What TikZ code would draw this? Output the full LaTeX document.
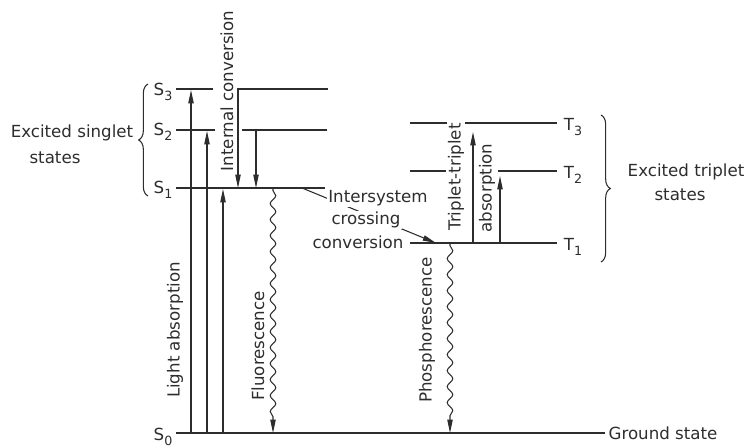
\documentclass[tikz,border=0pt]{standalone}
\usepackage{fontspec}
\setmainfont{DejaVu Sans}
\usetikzlibrary{arrows.meta,decorations.pathmorphing,decorations.pathreplacing}
\newcommand\lsub[1]{\raisebox{-0.5ex}{\fontsize{9.5}{10}\selectfont #1}}
\definecolor{ink}{RGB}{45,45,45}
\begin{document}
\begin{tikzpicture}[x=0.75pt,y=-0.75pt,
  every node/.style={text=ink},
  lvl/.style={draw=ink,line width=1.3pt},
  arr/.style={draw=ink,line width=0.8pt,-{Stealth[length=10pt,width=4pt,inset=0pt]}},
  wavy/.style={draw=ink,line width=0.8pt,-{Stealth[length=10pt,width=4pt,inset=0pt]},
    decorate,decoration={snake,amplitude=2.1pt,segment length=12pt,pre length=2pt,post length=10pt}},
  brc/.style={draw=ink,line width=0.8pt,decorate,decoration={brace,amplitude=7pt}},
  lab/.style={font=\fontsize{12.5}{14}\selectfont,inner sep=1pt},
  rlab/.style={lab,rotate=90}]
\useasboundingbox (0,0) rectangle (748,448);
% level coordinates
\coordinate (s3a) at (176,89); \coordinate (s3b) at (213,89);
\coordinate (s3c) at (237,89); \coordinate (s3d) at (328,89);
\coordinate (s2a) at (176,130); \coordinate (s2b) at (215,130);
\coordinate (s2c) at (242,130); \coordinate (s2d) at (327,130);
\coordinate (s1a) at (176,188); \coordinate (s1b) at (325,188);
\coordinate (s0a) at (176,433); \coordinate (s0b) at (605,433);
\coordinate (t3a) at (410,123); \coordinate (t3b) at (447,123);
\coordinate (t3c) at (465,123); \coordinate (t3d) at (557,123);
\coordinate (t2a) at (410,171); \coordinate (t2b) at (446,171);
\coordinate (t2c) at (498,171); \coordinate (t2d) at (557,171);
\coordinate (t1a) at (410,243); \coordinate (t1b) at (557,243);
% levels
\draw[lvl] (s3a) -- (s3b); \draw[lvl] (s3c) -- (s3d);
\draw[lvl] (s2a) -- (s2b); \draw[lvl] (s2c) -- (s2d);
\draw[lvl] (s1a) -- (s1b);
\draw[lvl] (s0a) -- (s0b);
\draw[lvl] (t3a) -- (t3b); \draw[lvl] (t3c) -- (t3d);
\draw[lvl] (t2a) -- (t2b); \draw[lvl] (t2c) -- (t2d);
\draw[lvl] (t1a) -- (t1b);
% level labels
\node[lab] (S3) at (163,92) {S\lsub{3}};
\node[lab] (S2) at (163,132) {S\lsub{2}};
\node[lab] (S1) at (163,190) {S\lsub{1}};
\node[lab] (S0) at (163,437) {S\lsub{0}};
\node[lab] (T3) at (573,127) {T\lsub{3}};
\node[lab] (T2) at (573,175) {T\lsub{2}};
\node[lab] (T1) at (573,247) {T\lsub{1}};
\node[lab] (gs) at (663,433) {Ground state};
% braces
\coordinate (lb1) at (148,196); \coordinate (lb2) at (148,84);
\draw[brc] (lb1) -- (lb2);
\coordinate (rb1) at (601,115); \coordinate (rb2) at (601,262);
\draw[brc] (rb1) -- (rb2);
\node[lab] (es1) at (72,133) {Excited singlet};
\node[lab] (es2) at (55,158) {states};
\node[lab] (et1) at (686,172) {Excited triplet};
\node[lab] (et2) at (680,195) {states};
% light absorption
\coordinate (u1b) at (191,433); \coordinate (u1t) at (191,90);
\coordinate (u2b) at (207,433); \coordinate (u2t) at (207,131);
\coordinate (u3b) at (223,433); \coordinate (u3t) at (223,189);
\draw[arr] (u1b) -- (u1t);
\draw[arr] (u2b) -- (u2t);
\draw[arr] (u3b) -- (u3t);
\node[rlab] (la) at (175,330) {Light absorption};
% internal conversion
\coordinate (d1t) at (238,89); \coordinate (d1b) at (238,188);
\coordinate (d2t) at (256,130); \coordinate (d2b) at (256,188);
\draw[arr] (d1t) -- (d1b);
\draw[arr] (d2t) -- (d2b);
\node[rlab] (ic) at (227,91) {Internal conversion};
% fluorescence
\coordinate (ft) at (273,188); \coordinate (fb) at (273,433);
\draw[wavy] (ft) -- (fb);
\node[rlab] (fl) at (258,346) {Fluorescence};
% phosphorescence
\coordinate (pt) at (450,243); \coordinate (pb) at (450,433);
\draw[wavy] (pt) -- (pb);
\node[rlab] (ph) at (427,330) {Phosphorescence};
% triplet-triplet absorption
\coordinate (a1b) at (473,243); \coordinate (a1t) at (473,132);
\coordinate (a2b) at (500,243); \coordinate (a2t) at (500,176);
\draw[arr] (a1b) -- (a1t);
\draw[arr] (a2b) -- (a2t);
\node[rlab] (tt) at (456,177) {Triplet-triplet};
\node[rlab] (ab) at (487,188) {absorption};
% intersystem crossing
\coordinate (isa) at (302,188); \coordinate (isb) at (436,243);
\draw[draw=ink,line width=0.8pt,-{Stealth[length=10pt,width=4pt,inset=0pt]}] (isa) -- (isb);
\node[lab,fill=white] (is1) at (378,198) {Intersystem};
\node[lab,fill=white] (is2) at (366,220) {crossing};
\node[lab,fill=white] (is3) at (358,242) {conversion};
\end{tikzpicture}
\end{document}
